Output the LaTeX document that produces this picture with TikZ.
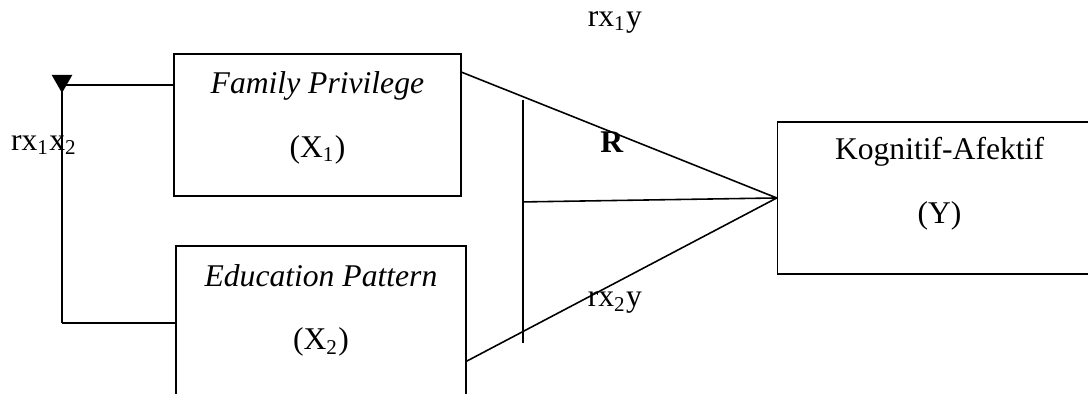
\documentclass[tikz,border=0pt]{standalone}
\usepackage{fontspec}
\setmainfont{Liberation Serif}
\usetikzlibrary{positioning, calc, arrows.meta}
\definecolor{Ink}{HTML}{000000}
\tikzset{
    varbox/.style={rectangle, draw=Ink, line width=0.6pt, inner sep=0pt},
    boxtext/.style={align=center, text=Ink, font=\fontsize{12}{24.2}\selectfont},
    corrlabel/.style={text=Ink, font=\fontsize{12}{14}\selectfont},
    link/.style={draw=Ink, line width=0.6pt},
}

\begin{document}
\begin{tikzpicture}
        \path[use as bounding box, clip] (0,0) rectangle (14.51,-5.25);

        % Boxes
        \node[varbox, minimum width=3.827cm, minimum height=1.893cm] (x1) at (4.233,-1.667) {};
        \node[boxtext] (x1txt) at ([yshift=-0.86cm]x1.north) {\textit{Family Privilege}\\(X\textsubscript{1})};

        \node[varbox, minimum width=3.867cm, minimum height=2.4cm] (x2) at (4.28,-4.48) {};
        \node[boxtext] (x2txt) at ([yshift=-0.87cm]x2.north) {\textit{Education Pattern}\\(X\textsubscript{2})};

        \node[varbox, minimum width=4.32cm, minimum height=2.027cm] (y) at (12.53,-2.64) {};
        \node[boxtext] (ytxt) at ([yshift=-0.83cm]y.north) {Kognitif-Afektif\\(Y)};

        % rx1x2 bracket
        \coordinate (cTop) at (0.827,-1.0);
        \coordinate (cBot) at (0.827,-4.307);
        \draw[link, {Triangle[reversed, width=0.27cm, length=0.24cm]}-] (cTop) -- (cBot);
        \draw[link] (x1.west |- 0,-1.133) -- (0.867,-1.133);
        \draw[link] (cBot) -- (cBot -| x2.west);

        % Lines to Y
        \coordinate (barTop) at (6.973,-1.333);
        \coordinate (barBot) at (6.973,-4.573);
        \coordinate (barMid) at (6.973,-2.693);
        \draw[link] (barTop) -- (barBot);
        \draw[link] ([yshift=-0.253cm]x1.north east) -- (y.west);
        \draw[link] (barMid) -- (y.west);
        \draw[link] ([yshift=-1.547cm]x2.north east) -- (y.west);

        % Labels
        \node[corrlabel] (r1y) at (8.2,-0.293) {rx\textsubscript{1}y};
        \node[corrlabel, font=\bfseries\fontsize{12}{14}\selectfont] (rr) at (8.16,-1.893) {R};
        \node[corrlabel] (r2y) at (8.2,-4.04) {rx\textsubscript{2}y};
        \node[corrlabel] (r12) at (0.587,-1.933) {rx\textsubscript{1}x\textsubscript{2}};
    \end{tikzpicture}
\end{document}
